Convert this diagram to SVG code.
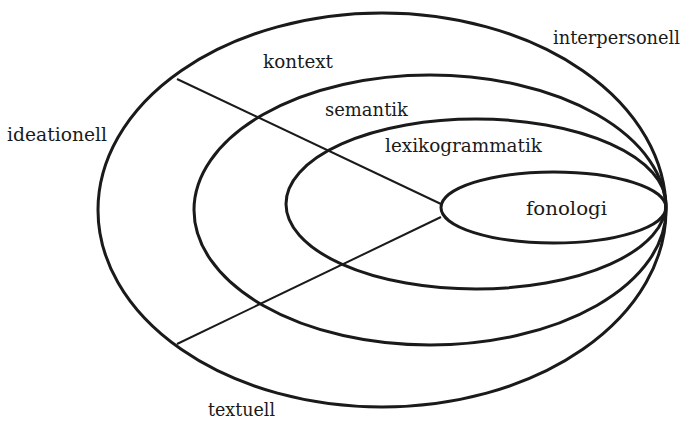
<svg xmlns="http://www.w3.org/2000/svg" width="683" height="421" viewBox="0 0 683 421">
  <style>
    .ring { fill: none; stroke: #1a1a1a; stroke-width: 3; }
    .edge { stroke: #1a1a1a; stroke-width: 2; fill: none; }
    text { font-family: "DejaVu Serif", "Liberation Serif", serif; font-size: 18px; fill: #1a1a1a; }
  </style>
  <rect width="683" height="421" fill="#ffffff"/>

  <!-- nested strata, all touching at the right-hand edge -->
  <g id="kontext">
    <ellipse class="ring" cx="382" cy="210" rx="284" ry="197"/>
    <text x="263" y="68" textLength="70" lengthAdjust="spacingAndGlyphs">kontext</text>
  </g>
  <g id="semantik">
    <ellipse class="ring" cx="430" cy="210" rx="236" ry="135"/>
    <text x="325" y="116" textLength="83" lengthAdjust="spacingAndGlyphs">semantik</text>
  </g>
  <g id="lexikogrammatik">
    <ellipse class="ring" cx="476" cy="204" rx="190" ry="85"/>
    <text x="385" y="152" textLength="157" lengthAdjust="spacingAndGlyphs">lexikogrammatik</text>
  </g>
  <g id="fonologi">
    <ellipse class="ring" cx="553.5" cy="207.5" rx="112.5" ry="35.5"/>
    <text x="526" y="215" textLength="81" lengthAdjust="spacingAndGlyphs">fonologi</text>
  </g>

  <!-- metafunction dividers -->
  <g id="connectors">
    <line class="edge" x1="177" y1="79" x2="441" y2="204"/>
    <line class="edge" x1="177" y1="344" x2="441" y2="217"/>
  </g>

  <g id="metafunctions">
    <text x="553" y="44" textLength="127" lengthAdjust="spacingAndGlyphs">interpersonell</text>
    <text x="7" y="141" textLength="100" lengthAdjust="spacingAndGlyphs">ideationell</text>
    <text x="208" y="416" textLength="67" lengthAdjust="spacingAndGlyphs">textuell</text>
  </g>
</svg>
